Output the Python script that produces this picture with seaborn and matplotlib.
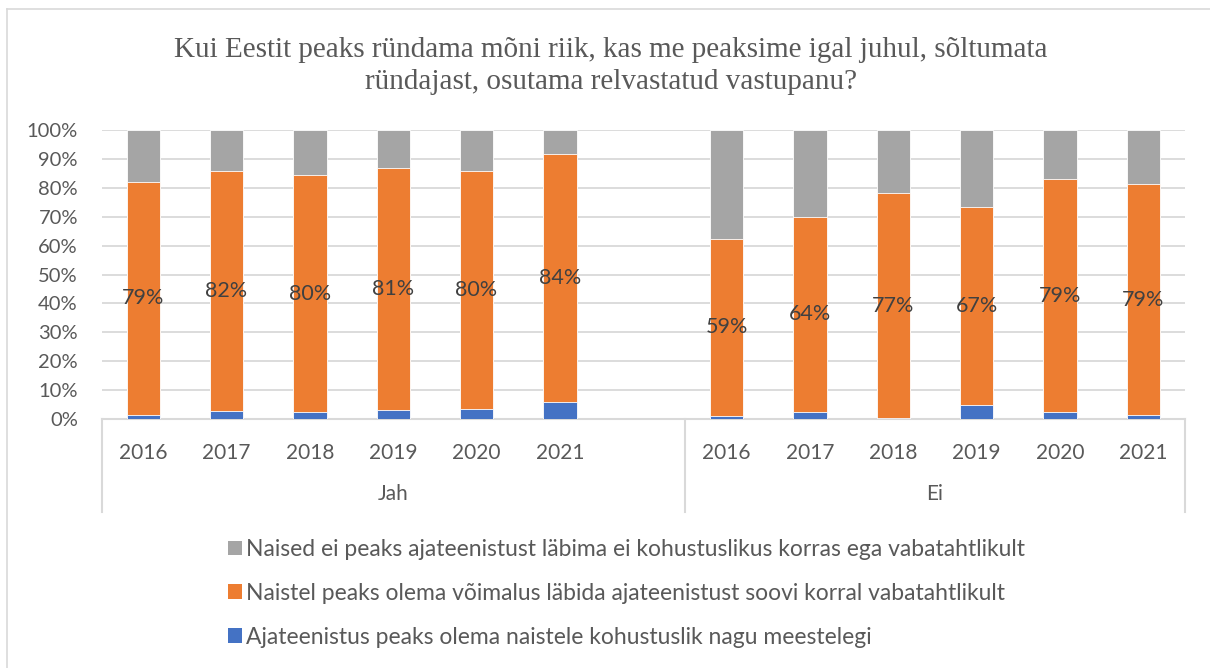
import numpy as np
import pandas as pd
import matplotlib.pyplot as plt
import seaborn as sns
from matplotlib.patches import Patch
from matplotlib.lines import Line2D
import matplotlib.transforms as mtransforms

# andmed (loetud jooniselt, protsendid)
aastad = ["2016", "2017", "2018", "2019", "2020", "2021"]
grupid = ["Jah", "Ei"]
kohustuslik_jah = [1.4, 2.9, 2.5, 3.2, 3.5, 5.8]
vabatahtlik_jah = [80.7, 82.9, 81.8, 83.8, 82.3, 85.8]
kohustuslik_ei = [1.0, 2.4, 0.2, 4.7, 2.5, 1.3]
vabatahtlik_ei = [61.4, 67.6, 77.9, 68.8, 80.4, 79.9]
sildid_jah = ["79%", "82%", "80%", "81%", "80%", "84%"]
sildid_ei = ["59%", "64%", "77%", "67%", "79%", "79%"]

seeriad = [
    "Naised ei peaks ajateenistust läbima ei kohustuslikus korras ega vabatahtlikult",
    "Naistel peaks olema võimalus läbida ajateenistust soovi korral vabatahtlikult",
    "Ajateenistus peaks olema naistele kohustuslik nagu meestelegi",
]
varvid = ["#A5A5A5", "#ED7D31", "#4472C4"]

# tabel
kat = [g + " " + a for g in grupid for a in aastad]
sinine = kohustuslik_jah + kohustuslik_ei
oranz = vabatahtlik_jah + vabatahtlik_ei
df = pd.DataFrame({"kat": kat, "sinine": sinine, "oranz": oranz,
                   "silt": sildid_jah + sildid_ei})
df["kum_oranz"] = df["sinine"] + df["oranz"]
df["kum_hall"] = 100.0
# tühi koht gruppide vahel
jarjestus = kat[:6] + [" "] + kat[6:]

plt.rcParams["font.family"] = ["Lato", "DejaVu Sans"]
fig = plt.figure(figsize=(12.1, 6.68), dpi=100)
ax = fig.add_axes([101.5 / 1210, (668 - 419) / 668, (1185 - 101.5) / 1210, 289 / 668])

for col, c in zip(["kum_hall", "kum_oranz", "sinine"], varvid):
    sns.barplot(data=df, x="kat", y=col, order=jarjestus, color=c, width=0.4,
                saturation=1, edgecolor="white", linewidth=0.6, ax=ax, zorder=3)

ax.set_ylim(0, 100)
ax.set_xlim(-0.5, 12.5)
ax.set_yticks(np.arange(0, 101, 10))
ax.set_yticklabels([f"{v}%" for v in range(0, 101, 10)])
ax.grid(axis="y", color="#D9D9D9", linewidth=1.3, zorder=0)
ax.set_axisbelow(True)
ax.tick_params(axis="y", length=0, pad=17, labelsize=14.5, labelcolor="#595959")
ax.tick_params(axis="x", length=0, pad=17, labelsize=15, labelcolor="#595959")
ax.set_xticks(range(13))
ax.set_xticklabels(aastad + [""] + aastad)
ax.set_xlabel("")
ax.set_ylabel("")
for s in ax.spines.values():
    s.set_visible(False)

# andmesildid oranži lõigu keskel
pos = {k: i for i, k in enumerate(jarjestus)}
for _, r in df.iterrows():
    ax.text(pos[r["kat"]], r["sinine"] + r["oranz"] / 2, r["silt"], ha="center",
            va="center", fontsize=15.5, color="#404040", zorder=5)

# kategooriatelg: joon ja grupi eraldajad
tr = mtransforms.blended_transform_factory(ax.transData, ax.transAxes)
ax.add_line(Line2D([-0.5, 12.5], [0, 0], transform=tr, color="#D9D9D9", lw=1.5, clip_on=False))
for xv in [-0.5, 6.5, 12.5]:
    ax.add_line(Line2D([xv, xv], [0, -0.322], transform=tr, color="#D9D9D9", lw=1.5, clip_on=False))
ax.text(3.0, -0.26, "Jah", transform=tr, ha="center", va="center", fontsize=15, color="#595959")
ax.text(9.5, -0.26, "Ei", transform=tr, ha="center", va="center", fontsize=15, color="#595959")

fig.text(0.505, 1 - 66 / 668,
         "Kui Eestit peaks ründama mõni riik, kas me peaksime igal juhul, sõltumata\nründajast, osutama relvastatud vastupanu?",
         ha="center", va="center", fontsize=21, color="#595959", family="Liberation Serif",
         linespacing=1.3)

kasitsus = [Patch(facecolor=c, edgecolor="none") for c in varvid]
fig.legend(kasitsus, seeriad, loc="upper left", bbox_to_anchor=(228 / 1210, 1 - 539 / 668),
           frameon=False, borderpad=0, borderaxespad=0, handlelength=0.62, handleheight=0.62,
           handletextpad=0.15, labelspacing=1.0, fontsize=16.5, labelcolor="#595959")

# välimine raam
fig.add_artist(Line2D([7 / 1210, 1], [1 - 9 / 668, 1 - 9 / 668], color="#D9D9D9", lw=1.2))
fig.add_artist(Line2D([7 / 1210, 7 / 1210], [0, 1 - 9 / 668], color="#D9D9D9", lw=1.2))

fig.savefig("out.png", dpi=100)
